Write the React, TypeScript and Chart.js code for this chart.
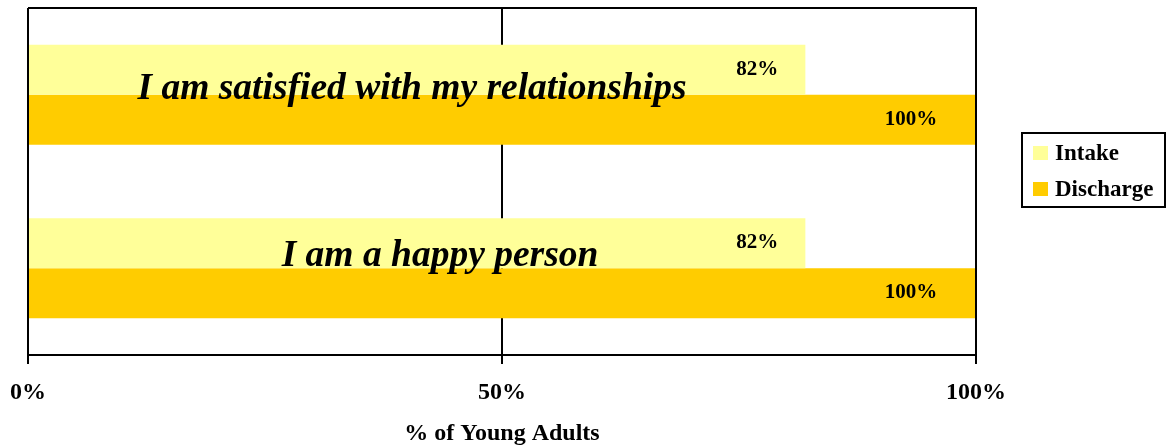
import React, { useEffect, useRef } from "react";
import { Chart, registerables } from "chart.js";

Chart.register(...registerables);

const categories = ["I am satisfied with my relationships", "I am a happy person"];
const intake = [82, 82];
const discharge = [100, 100];
const seriesNames = ["Intake", "Discharge"];
const seriesColors = ["#FFFF99", "#FFCC00"];
const tickValues = [0, 50, 100];
const axisTitle = "% of Young Adults";

const SERIF = "'Liberation Serif', 'Times New Roman', serif";

const overlayPlugin = {
  id: "overlay",
  afterDatasetsDraw(chart: any) {
    const { ctx, chartArea } = chart;
    const xs = chart.scales.x;
    const ys = chart.scales.y;
    ctx.save();
    // value labels
    ctx.fillStyle = "#000";
    ctx.font = `bold 21px ${SERIF}`;
    ctx.textAlign = "center";
    ctx.textBaseline = "alphabetic";
    const offsets = [48, 65];
    chart.data.datasets.forEach((ds: any, di: number) => {
      const meta = chart.getDatasetMeta(di);
      meta.data.forEach((bar: any, i: number) => {
        const v = ds.data[i];
        const x = xs.getPixelForValue(v) - offsets[di];
        ctx.fillText(`${v}%`, x, bar.y + 5);
      });
    });
    // category labels
    ctx.font = `italic bold 37.5px ${SERIF}`;
    const catDx = [-90, -62];
    const catDy = [4, -2];
    categories.forEach((c, i) => {
      const y = ys.getPixelForValue(i);
      const x = (chartArea.left + chartArea.right) / 2 + catDx[i];
      ctx.fillText(c, x, y + catDy[i]);
    });
    // plot border (top, right, left)
    ctx.strokeStyle = "#000";
    ctx.lineWidth = 2;
    ctx.beginPath();
    ctx.moveTo(chartArea.left, chartArea.top);
    ctx.lineTo(chartArea.right, chartArea.top);
    ctx.lineTo(chartArea.right, chartArea.bottom);
    ctx.moveTo(chartArea.left, chartArea.top);
    ctx.lineTo(chartArea.left, chartArea.bottom);
    ctx.stroke();
    // legend
    const lx = 1022, ly = 133, lw = 143, lh = 74;
    ctx.lineWidth = 2;
    ctx.strokeRect(lx, ly, lw, lh);
    ctx.font = `bold 23px ${SERIF}`;
    ctx.textAlign = "left";
    ctx.textBaseline = "middle";
    seriesNames.forEach((n, i) => {
      const cy = ly + 20 + i * 36;
      ctx.fillStyle = seriesColors[i];
      ctx.fillRect(lx + 11, cy - 7, 15, 14);
      ctx.fillStyle = "#000";
      ctx.fillText(n, lx + 33, cy + 1);
    });
    ctx.restore();
  },
};

export default function App() {
  const ref = useRef<HTMLCanvasElement | null>(null);
  useEffect(() => {
    document.body.style.margin = "0";
    const chart = new Chart(ref.current as HTMLCanvasElement, {
      type: "bar",
      data: {
        labels: categories,
        datasets: [
          { label: seriesNames[0], data: intake, backgroundColor: seriesColors[0], categoryPercentage: 0.576, barPercentage: 1 },
          { label: seriesNames[1], data: discharge, backgroundColor: seriesColors[1], categoryPercentage: 0.576, barPercentage: 1 },
        ],
      },
      options: {
        indexAxis: "y",
        animation: false,
        responsive: false,
        maintainAspectRatio: false,
        layout: { padding: { left: 28, top: 8, right: 191, bottom: 0 } },
        plugins: { legend: { display: false }, tooltip: { enabled: false } },
        scales: {
          x: {
            type: "linear",
            min: 0,
            max: 100,
            afterBuildTicks: (s: any) => {
              s.ticks = tickValues.map((v) => ({ value: v }));
            },
            afterFit: (s: any) => {
              s.height = 91;
              s.paddingLeft = 0;
              s.paddingRight = 0;
            },
            ticks: {
              callback: (v: any) => `${v}%`,
              color: "#000",
              font: { family: SERIF, size: 24, weight: "bold" },
              padding: 14,
              maxRotation: 0,
            },
            grid: { color: "#000", lineWidth: 2, tickLength: 9, drawOnChartArea: true },
            border: { display: true, color: "#000", width: 2 },
            title: {
              display: true,
              text: axisTitle,
              color: "#000",
              font: { family: SERIF, size: 24, weight: "bold" },
              padding: { top: 0, bottom: -2 },
            },
          },
          y: { display: false },
        },
      },
      plugins: [overlayPlugin],
    } as any);
    return () => chart.destroy();
  }, []);
  return (
    <div style={{ width: 1167, height: 446 }}>
      <canvas ref={ref} width={1167} height={446} style={{ display: "block" }} />
    </div>
  );
}
